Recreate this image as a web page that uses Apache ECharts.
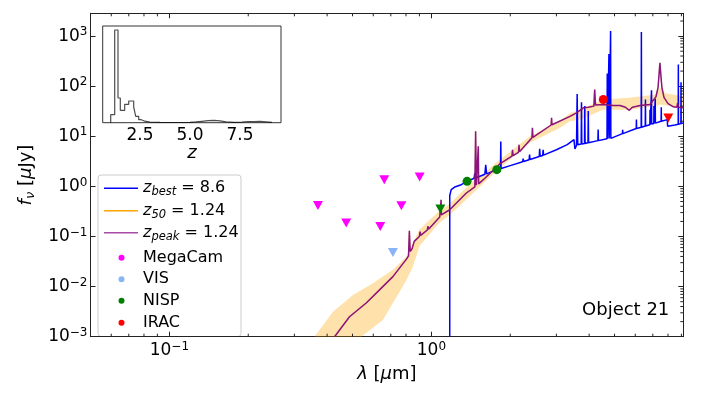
<!DOCTYPE html>
<html>
<head>
<meta charset="utf-8">
<script src="https://cdn.jsdelivr.net/npm/echarts@6/dist/echarts.min.js"></script>
<style>
  html, body { margin: 0; padding: 0; background: #fff; }
  #sed-chart { width: 703px; height: 395px; }
</style>
</head>
<body>
<div id="sed-chart"></div>
<script>
// ---- values ----
// axis ranges
const X_MIN = 0.05, X_MAX = 9.15;
const Y_MIN = 0.001, Y_MAX = 2850;
const Z_MIN = 0.635, Z_MAX = 9.55;
const HIST_TOP = 967;

// z_best = 8.6 template [lambda um, f_nu uJy]
const zBestSed = [
  [1.175, 0.001], [1.175, 0.65], [1.19, 0.86], [1.227, 0.97], [1.30, 1.08], [1.37, 1.26],
  [1.455, 1.45], [1.465, 1.85], [1.475, 1.47],
  [1.60, 1.75], [1.612, 2.7], [1.624, 1.78],
  [1.777, 2.16], [1.835, 2.25], [1.84, 7.9], [1.845, 2.27],
  [2.0, 2.6], [2.23, 3.1], [2.24, 3.6], [2.25, 3.15],
  [2.36, 3.4], [2.37, 4.3], [2.38, 3.45],
  [2.58, 3.95], [2.59, 5.6], [2.60, 4.0], [2.66, 4.15], [2.67, 5.4], [2.68, 4.2],
  [3.0, 5.4], [3.3, 6.8], [3.50, 8.6], [3.53, 5.6], [3.58, 6.6], [3.60, 70], [3.62, 6.8],
  [3.73, 7.0], [3.74, 48], [3.75, 7.0], [3.84, 7.2], [3.85, 40], [3.86, 7.2],
  [3.96, 7.4], [3.97, 32], [3.98, 7.4], [4.32, 8.2], [4.33, 13.6], [4.34, 8.2],
  [4.68, 8.9], [4.69, 180], [4.70, 8.9], [4.75, 9.0], [4.76, 440], [4.77, 9.0],
  [4.82, 9.1], [4.83, 1260], [4.84, 9.1],
  [5.36, 11.3], [5.37, 13.5], [5.38, 11.3],
  [6.05, 14.3], [6.06, 21.5], [6.07, 14.3], [6.32, 15.2], [6.33, 1200], [6.34, 15.2],
  [6.55, 16], [6.56, 54], [6.57, 16], [6.82, 17], [6.83, 34], [6.84, 17],
  [6.91, 17.5], [6.92, 83], [6.93, 17.5], [7.06, 18], [7.07, 40], [7.08, 18],
  [7.14, 18.3], [7.15, 56], [7.16, 18.3], [7.53, 20], [7.54, 38], [7.55, 20],
  [7.95, 21.5], [7.97, 15.8], [8.5, 16.8], [8.75, 17.4], [8.76, 270], [8.77, 17.4],
  [8.96, 17.9], [8.97, 120], [8.98, 17.9], [9.15, 18.5]
];

// z_peak = 1.24 template (z_50 gives the same model)
const zPeakSed = [
  [0.427, 0.001], [0.487, 0.0025], [0.564, 0.0047], [0.634, 0.0086], [0.713, 0.0158],
  [0.803, 0.0353], [0.818, 0.041], [0.824, 0.13], [0.83, 0.05], [0.845, 0.058], [0.86, 0.08],
  [0.9, 0.1], [0.905, 0.125], [0.91, 0.105], [0.965, 0.135], [0.97, 0.16], [0.975, 0.14],
  [1.076, 0.244], [1.086, 0.26], [1.089, 0.54], [1.092, 0.27], [1.175, 0.342], [1.36, 0.738],
  [1.465, 0.98], [1.475, 12.6], [1.485, 1.05], [1.505, 1.1], [1.51, 6.3], [1.515, 1.12],
  [1.6, 1.45], [1.823, 2.8], [2.03, 4.0], [2.04, 5.4], [2.05, 4.1], [2.15, 4.8], [2.16, 6.8],
  [2.17, 4.9], [2.42, 9.3], [2.43, 14.7], [2.44, 9.5], [2.865, 16.8], [2.875, 23.3], [2.885, 17],
  [3.38, 25], [3.58, 29.4], [3.8, 37], [3.97, 38], [4.17, 40], [4.2, 86], [4.23, 42],
  [4.53, 43], [4.94, 41], [5.25, 41], [5.5, 38], [5.69, 33], [5.85, 38], [6.26, 41],
  [6.83, 43], [7.2, 62], [7.33, 95], [7.41, 200], [7.45, 294], [7.49, 200], [7.58, 95],
  [7.72, 60], [8.0, 45], [8.39, 38.8], [8.65, 38], [8.7, 46], [8.75, 38], [9.15, 37]
];
const z50Sed = zPeakSed;

// z_50 uncertainty band
const bandUpper = [
  [0.358, 0.001], [0.421, 0.00316], [0.502, 0.0068], [0.598, 0.0117], [0.713, 0.0216],
  [0.803, 0.04], [0.85, 0.074], [0.902, 0.14], [1.076, 0.33], [1.175, 0.45], [1.36, 0.95],
  [1.8, 3.2], [2.375, 10], [3.09, 20], [3.38, 29], [3.69, 34], [4.52, 54], [5.69, 58.7],
  [7.13, 68], [7.46, 93], [7.8, 72], [9.15, 63]
];
const bandLower = [
  [0.54, 0.001], [0.653, 0.00216], [0.713, 0.0047], [0.757, 0.0079], [0.803, 0.0136],
  [0.85, 0.025], [0.902, 0.065], [1.076, 0.19], [1.175, 0.27], [1.36, 0.55], [1.8, 2.2],
  [2.375, 7.4], [3.09, 14.7], [3.38, 20], [3.69, 21.5], [4.52, 34], [5.69, 34],
  [7.13, 40], [7.46, 43], [9.15, 37]
];

// photometry (limit = 1 -> upper limit, drawn as a down triangle)
const megacamLam = [0.369, 0.473, 0.638, 0.661, 0.768, 0.902];
const megacamFlux = [0.417, 0.185, 0.158, 1.36, 0.411, 1.54];
const megacamLimit = [1, 1, 1, 1, 1, 1];
const visLam = [0.713];
const visFlux = [0.0479];
const visLimit = [1];
const nispLam = [1.082, 1.368, 1.777];
const nispFlux = [0.353, 1.26, 2.16];
const nispLimit = [1, 0, 0];
const iracLam = [4.53, 8.02];
const iracFlux = [54.2, 23.3];
const iracLimit = [0, 1];

// P(z) histogram for the inset
const histEdges = [1.035, 1.235, 1.40, 1.515, 1.735, 1.935, 2.185, 2.285, 2.435, 2.565, 2.735,
  3.0, 3.5, 4.0, 4.5, 5.0, 5.3, 5.6, 5.9, 6.2, 6.5, 6.8, 7.2, 7.6, 7.9, 8.2, 8.5, 8.8, 9.1];
const histCounts = [80, 927, 247, 124, 184, 217, 157, 64, 30, 15, 5,
  3, 2, 2, 3, 8, 14, 20, 24, 18, 8, 4, 6, 12, 10, 13, 8, 3];

// legend entries
const legendLabels = ['{i|z}{sub|best}{n| = 8.6}', '{i|z}{sub|50}{n| = 1.24}', '{i|z}{sub|peak}{n| = 1.24}',
  '{n|MegaCam}', '{n|VIS}', '{n|NISP}', '{n|IRAC}'];
const legendColors = ['#0000ff', '#ffa500', 'rgba(128,0,128,0.7)', '#ff00ff', '#89b4f5', '#008000', '#ff0000'];
const legendKinds = ['line', 'line', 'line', 'dot', 'dot', 'dot', 'dot'];

// ---- chart ----
const FONT = 'DejaVu Sans';
const AX = '#222';
var myChart = echarts.init(document.getElementById('sed-chart'));

// 10^n tick labels
const powRich = {
  b: { fontFamily: FONT, fontSize: 17, lineHeight: 20, color: '#000' },
  s: { fontFamily: FONT, fontSize: 12, lineHeight: 12, padding: [0, 0, 8, 0], color: '#000' }
};
const logLabel = (v) => {
  const e = Math.round(Math.log10(v));
  if (Math.abs(Math.log10(v) - e) > 1e-6) return '';
  return '{b|10}{s|' + (e < 0 ? '\u2212' + (-e) : e) + '}';
};

const minorTicks = (lo, hi) => {
  let out = [];
  for (let k = Math.floor(Math.log10(lo)); k <= Math.ceil(Math.log10(hi)); k++) {
    for (let m = 2; m <= 9; m++) {
      const v = m * Math.pow(10, k);
      if (v > lo && v < hi) out.push(v);
    }
  }
  return out;
};
const xMinor = minorTicks(X_MIN, X_MAX);
const yMinor = minorTicks(Y_MIN, Y_MAX);

const photSeries = (name, color, lam, flux, limit) => ({
  name: name,
  type: 'scatter',
  z: 6,
  itemStyle: { color: color, opacity: 1 },
  data: lam.map((l, i) => ({
    value: [l, flux[i]],
    symbol: limit[i] ? 'triangle' : 'circle',
    symbolRotate: limit[i] ? 180 : 0,
    symbolSize: limit[i] ? [10, 9] : 9
  }))
});

// step outline of the histogram
let histLine = [[histEdges[0], 0]];
histCounts.forEach((c, i) => {
  histLine.push([histEdges[i], c]);
  histLine.push([histEdges[i + 1], c]);
});
histLine.push([histEdges[histEdges.length - 1], 0]);

// legend box drawn by hand (matplotlib style)
const legendRich = {
  i: { fontFamily: FONT, fontSize: 16, fontStyle: 'italic', lineHeight: 20, fill: '#000' },
  n: { fontFamily: FONT, fontSize: 16, lineHeight: 20, fill: '#000' },
  sub: { fontFamily: FONT, fontSize: 11.5, fontStyle: 'italic', lineHeight: 12, padding: [8, 0, 0, 0], fill: '#000' }
};
const legendRows = [188.3, 210.7, 232.7, 257.7, 279.3, 300.7, 322.7];
let legendEls = [
  { type: 'rect', shape: { x: 98, y: 175, width: 143, height: 161.5, r: 3 },
    style: { fill: 'rgba(255,255,255,0.8)', stroke: '#cccccc', lineWidth: 1 } }
];
legendLabels.forEach((t, i) => {
  const y = legendRows[i];
  if (legendKinds[i] === 'line') {
    legendEls.push({ type: 'line', shape: { x1: 104, y1: y, x2: 138, y2: y },
      style: { stroke: legendColors[i], lineWidth: 1.5 } });
  } else {
    legendEls.push({ type: 'circle', shape: { cx: 121.5, cy: y, r: 3 },
      style: { fill: legendColors[i] } });
  }
  legendEls.push({ type: 'text', x: 143, y: y,
    style: { text: t, rich: legendRich, verticalAlign: 'middle', align: 'left' } });
});

myChart.setOption({
  animation: false,
  grid: [
    { left: 90.5, top: 13.3, width: 592.8, height: 323.4 },
    { left: 102.7, top: 26, width: 178.3, height: 96.7, show: true,
      backgroundColor: '#fff', borderColor: '#333', borderWidth: 1 }
  ],
  xAxis: [
    {
      gridIndex: 0, type: 'log', logBase: 10, min: X_MIN, max: X_MAX,
      axisLine: { lineStyle: { color: AX, width: 1 } },
      axisTick: { inside: true, length: 5, lineStyle: { color: AX } },
      axisLabel: { formatter: logLabel, rich: powRich, margin: 4 },
      splitLine: { show: false },
      name: '{i|\u03bb}{n| [}{i|\u03bc}{n|m]}',
      nameLocation: 'middle', nameGap: 23,
      nameTextStyle: { rich: {
        i: { fontFamily: FONT, fontSize: 18, fontStyle: 'italic', color: '#000' },
        n: { fontFamily: FONT, fontSize: 18, color: '#000' } } }
    },
    {
      gridIndex: 0, type: 'log', logBase: 10, min: X_MIN, max: X_MAX, position: 'top',
      axisLine: { lineStyle: { color: AX, width: 1 } },
      axisTick: { inside: true, length: 5, lineStyle: { color: AX } },
      axisLabel: { show: false }, splitLine: { show: false }
    },
    {
      gridIndex: 1, type: 'value', min: Z_MIN, max: Z_MAX,
      axisLine: { show: false }, axisTick: { show: false }, splitLine: { show: false },
      axisLabel: { customValues: [2.5, 5, 7.5], formatter: (v) => v.toFixed(1),
        fontFamily: FONT, fontSize: 17, color: '#000', margin: 4 },
      name: 'z', nameLocation: 'middle', nameGap: 10,
      nameTextStyle: { fontFamily: FONT, fontSize: 18, fontStyle: 'italic', color: '#000' }
    }
  ],
  yAxis: [
    {
      gridIndex: 0, type: 'log', logBase: 10, min: Y_MIN, max: Y_MAX,
      axisLine: { lineStyle: { color: AX, width: 1 } },
      axisTick: { inside: true, length: 5, lineStyle: { color: AX } },
      axisLabel: { formatter: logLabel, rich: powRich, margin: 3 },
      splitLine: { show: false },
      name: '{i|f}{sub|\u03bd}{n| [}{i|\u03bc}{n|Jy]}',
      nameLocation: 'middle', nameRotate: 90, nameGap: 47,
      nameTextStyle: { rich: {
        i: { fontFamily: FONT, fontSize: 18, fontStyle: 'italic', lineHeight: 24, color: '#000' },
        n: { fontFamily: FONT, fontSize: 18, lineHeight: 24, color: '#000' },
        sub: { fontFamily: FONT, fontSize: 13, fontStyle: 'italic', lineHeight: 16, padding: [8, 0, 0, 0], color: '#000' } } }
    },
    {
      gridIndex: 0, type: 'log', logBase: 10, min: Y_MIN, max: Y_MAX, position: 'right',
      axisLine: { lineStyle: { color: AX, width: 1 } },
      axisTick: { inside: true, length: 5, lineStyle: { color: AX } },
      axisLabel: { show: false }, splitLine: { show: false }
    },
    {
      gridIndex: 1, type: 'value', min: 0, max: HIST_TOP,
      axisLine: { show: false }, axisTick: { show: false },
      axisLabel: { show: false }, splitLine: { show: false }
    }
  ],
  graphic: [
    { type: 'group', z: 20, children: legendEls },
    { type: 'text', z: 8, x: 669.3, y: 310.7,
      style: { text: 'Object 21', font: '18px "DejaVu Sans"', fill: '#000',
        textAlign: 'right', textVerticalAlign: 'middle' } }
  ],
  series: [
    {
      name: 'band', type: 'custom', xAxisIndex: 0, yAxisIndex: 0, z: 1, silent: true,
      data: [[1, 1]],
      renderItem: (params, api) => {
        const pts = bandUpper.map((p) => api.coord(p))
          .concat(bandLower.slice().reverse().map((p) => api.coord(p)));
        return { type: 'polygon', shape: { points: pts },
          style: { fill: 'rgba(255,165,0,0.33)', stroke: null } };
      }
    },
    {
      name: 'zbest', type: 'line', xAxisIndex: 0, yAxisIndex: 0, z: 2,
      symbol: 'none', lineStyle: { color: '#0000ff', width: 1.5 }, itemStyle: { color: '#0000ff' },
      data: zBestSed
    },
    {
      name: 'z50', type: 'line', xAxisIndex: 0, yAxisIndex: 0, z: 3,
      symbol: 'none', lineStyle: { color: '#ffa500', width: 1.2, opacity: 0.5 }, itemStyle: { color: '#ffa500' },
      data: z50Sed
    },
    {
      name: 'zpeak', type: 'line', xAxisIndex: 0, yAxisIndex: 0, z: 4,
      symbol: 'none', lineStyle: { color: '#800080', width: 1.5, opacity: 0.9 }, itemStyle: { color: '#800080' },
      data: zPeakSed
    },
    photSeries('MegaCam', '#ff00ff', megacamLam, megacamFlux, megacamLimit),
    photSeries('VIS', '#89b4f5', visLam, visFlux, visLimit),
    photSeries('NISP', '#008000', nispLam, nispFlux, nispLimit),
    photSeries('IRAC', '#ff0000', iracLam, iracFlux, iracLimit),
    {
      // minor ticks at 2..9 x 10^k (bottom, top, right)
      name: 'minor', type: 'custom', xAxisIndex: 0, yAxisIndex: 0, z: 7, silent: true,
      data: [[1, 1]],
      renderItem: (params, api) => {
        const cs = params.coordSys;
        const bottom = cs.y + cs.height, top = cs.y, right = cs.x + cs.width;
        let children = [];
        xMinor.forEach((v) => {
          const px = api.coord([v, 1])[0];
          children.push({ type: 'line', shape: { x1: px, y1: bottom, x2: px, y2: bottom - 3 }, style: { stroke: AX, lineWidth: 1 } });
          children.push({ type: 'line', shape: { x1: px, y1: top, x2: px, y2: top + 3 }, style: { stroke: AX, lineWidth: 1 } });
        });
        yMinor.forEach((v) => {
          const py = api.coord([1, v])[1];
          children.push({ type: 'line', shape: { x1: right, y1: py, x2: right - 3, y2: py }, style: { stroke: AX, lineWidth: 1 } });
        });
        return { type: 'group', children: children };
      }
    },
    {
      name: 'pz', type: 'line', xAxisIndex: 2, yAxisIndex: 2, z: 3,
      symbol: 'none', lineStyle: { color: 'rgba(0,0,0,0.7)', width: 1.2 },
      data: histLine
    }
  ]
});
</script>
</body>
</html>
